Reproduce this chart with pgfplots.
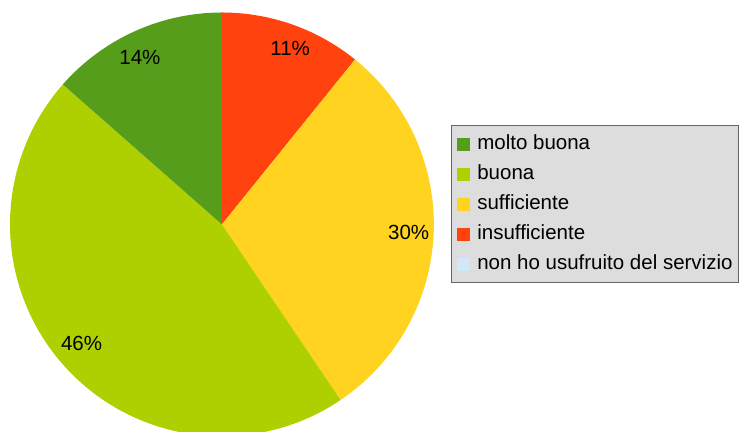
\documentclass[border=0pt]{standalone}
\usepackage{fontspec}
\setmainfont{Liberation Sans}
\usepackage{pgfplots}
\pgfplotsset{compat=1.18}
\definecolor{cMB}{HTML}{579D1C}
\definecolor{cB}{HTML}{AECF00}
\definecolor{cS}{HTML}{FFD320}
\definecolor{cI}{HTML}{FF420E}
\definecolor{cN}{HTML}{D2E8F6}
\definecolor{legfill}{HTML}{DDDDDD}
\definecolor{legdraw}{HTML}{666666}
% data: number of answers per category
\def\nMB{10}% molto buona
\def\nB{34}% buona
\def\nS{22}% sufficiente
\def\nI{8}% insufficiente
\def\nN{0}% non ho usufruito del servizio
\pgfmathsetmacro\tot{\nMB+\nB+\nS+\nI+\nN}
\pgfmathsetmacro\aB{\nI/\tot*360}
\pgfmathsetmacro\aC{(\nI+\nS)/\tot*360}
\pgfmathsetmacro\aD{(\nI+\nS+\nB)/\tot*360}
\def\cx{222}\def\cy{207.5}\def\R{212}\def\rl{187}
\pgfmathsetmacro\mI{\aB/2}
\pgfmathsetmacro\mS{(\aB+\aC)/2}
\pgfmathsetmacro\mB{(\aC+\aD)/2}
\pgfmathsetmacro\mMB{(\aD+360)/2}
\newcommand\lfont{\fontsize{20.5bp}{24bp}\selectfont}
\begin{document}
\begin{tikzpicture}
\begin{axis}[name=pie, hide axis, scale only axis, width=739bp, height=432bp,
  xmin=0, xmax=739, ymin=0, ymax=432, clip=true, clip bounding box=upper bound,
  legend image code/.code={\fill[#1, draw=none] (0bp,-6.5bp) rectangle (13bp,6.5bp); \path[draw=none, fill=none] (0bp,0bp) rectangle (20bp,0.1bp);},
  legend cell align=left,
  legend style={at={(axis cs:451,307)}, anchor=north west, fill=legfill, draw=legdraw, line width=1bp,
    font=\lfont, inner xsep=6bp, inner ysep=9bp, row sep=10.5bp,
    nodes={inner sep=0pt, text height=15bp, text depth=4.5bp}}]
\addplot[forget plot, fill=cI, draw=none, domain=0:\aB, samples=60, variable=\t]
  ({\cx+\R*sin(\t)},{\cy+\R*cos(\t)}) -- (axis cs:\cx,\cy) -- cycle;
\addplot[forget plot, fill=cS, draw=none, domain=\aB:\aC, samples=80, variable=\t]
  ({\cx+\R*sin(\t)},{\cy+\R*cos(\t)}) -- (axis cs:\cx,\cy) -- cycle;
\addplot[forget plot, fill=cB, draw=none, domain=\aC:\aD, samples=100, variable=\t]
  ({\cx+\R*sin(\t)},{\cy+\R*cos(\t)}) -- (axis cs:\cx,\cy) -- cycle;
\addplot[forget plot, fill=cMB, draw=none, domain=\aD:360, samples=60, variable=\t]
  ({\cx+\R*sin(\t)},{\cy+\R*cos(\t)}) -- (axis cs:\cx,\cy) -- cycle;
\node[font=\lfont] at (axis cs:{\cx+\rl*sin(\mI)+6},{\cy+\rl*cos(\mI)}) {11\%};
\node[font=\lfont] at (axis cs:{\cx+\rl*sin(\mS)},{\cy+\rl*cos(\mS)}) {30\%};
\node[font=\lfont] at (axis cs:{\cx+\rl*sin(\mB)},{\cy+\rl*cos(\mB)+4}) {46\%};
\node[font=\lfont] at (axis cs:{\cx+\rl*sin(\mMB)-5},{\cy+\rl*cos(\mMB)-3}) {14\%};
\addlegendimage{fill=cMB}\addlegendentry{molto buona}
\addlegendimage{fill=cB}\addlegendentry{buona}
\addlegendimage{fill=cS}\addlegendentry{sufficiente}
\addlegendimage{fill=cI}\addlegendentry{insufficiente}
\addlegendimage{fill=cN}\addlegendentry{non ho usufruito del servizio}
\end{axis}
\path (pie.south west) rectangle (pie.north east);
\end{tikzpicture}
\end{document}
